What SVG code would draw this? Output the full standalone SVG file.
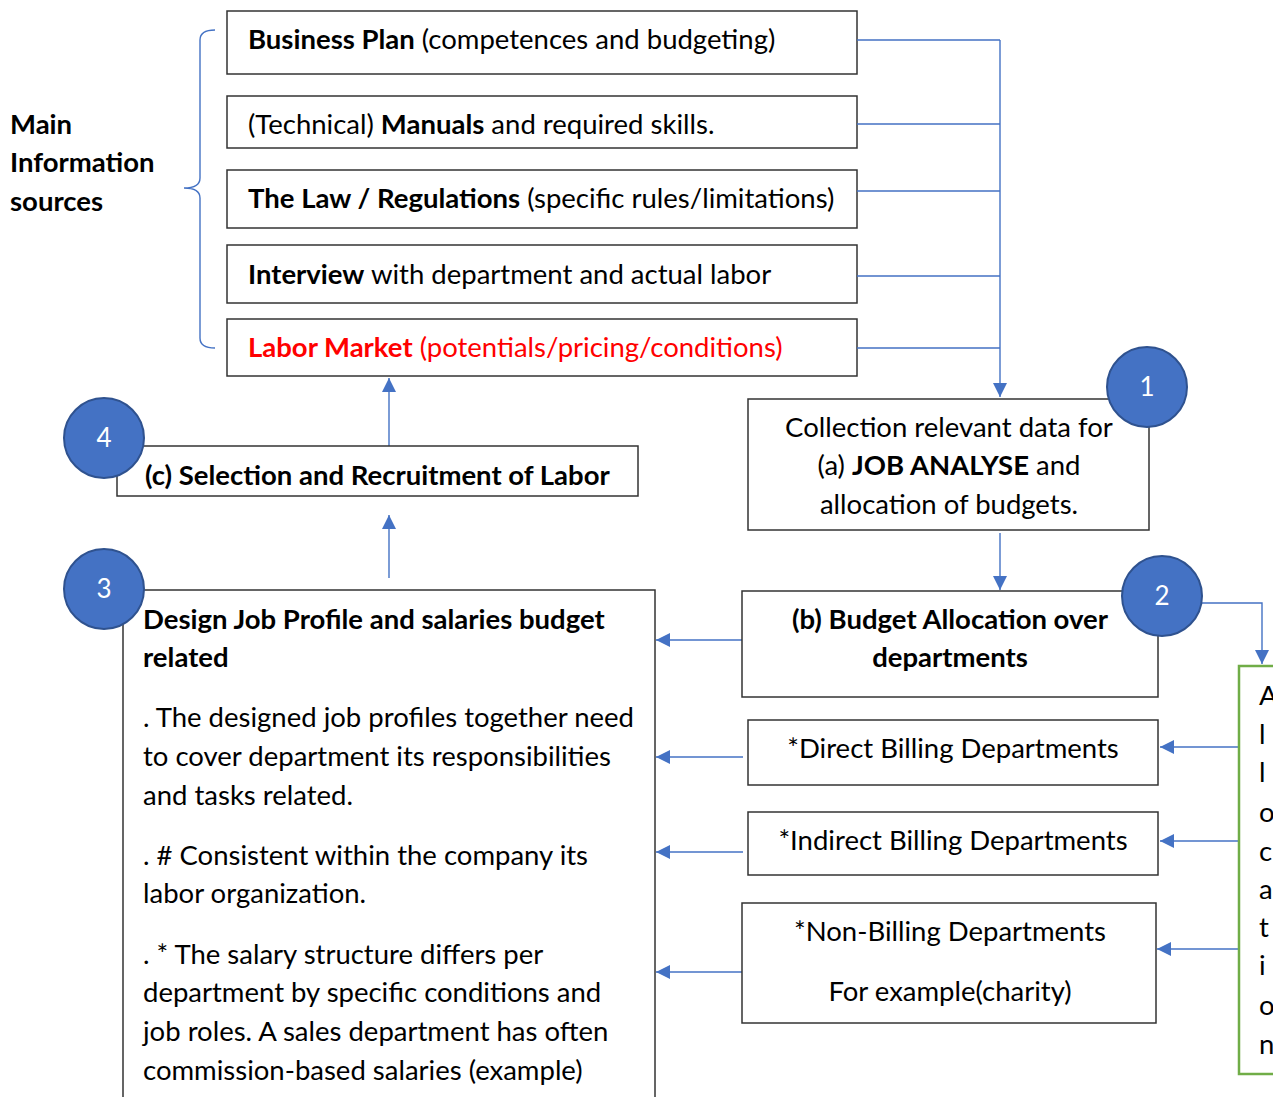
<svg xmlns="http://www.w3.org/2000/svg" width="1273" height="1097" viewBox="0 0 1273 1097">
  <defs>
    <marker id="arrow" markerWidth="14" markerHeight="14" refX="14" refY="7" orient="auto" markerUnits="userSpaceOnUse">
      <path d="M0,0 L14,7 L0,14 Z" fill="#4472C4"/>
    </marker>
    <style>
      text { font-family: Lato, "Liberation Sans", sans-serif; font-size: 27.5px; fill: #000; }
      .b { font-weight: bold; }
      .red { fill: #FF0000; }
      .mid { text-anchor: middle; }
      .box { fill: #fff; stroke: #333; stroke-width: 1.5; }
      .green { fill: #fff; stroke: #70AD47; stroke-width: 2.5; }
      .badge { fill: #4472C4; stroke: #2F528F; stroke-width: 2; }
      .badge-t { fill: #fff; font-size: 26px; text-anchor: middle; }
      .link { fill: none; stroke: #4472C4; stroke-width: 1.4; }
      .tip { fill: none; stroke: #4472C4; stroke-width: 1.4; marker-end: url(#arrow); }
    </style>
  </defs>
  <rect width="1273" height="1097" fill="#fff"/>

  <!-- label and brace for the information sources -->
  <g id="sources-label">
    <text class="b" x="10" y="134">Main</text>
    <text class="b" x="10" y="172">Information</text>
    <text class="b" x="10" y="211">sources</text>
    <path class="link" d="M215,30 Q200,30 200,40 L200,178 Q200,188 184,188 Q200,188 200,198 L200,338 Q200,348 215,348"/>
  </g>

  <!-- information sources -->
  <g id="business-plan">
    <rect class="box" x="227" y="11" width="630" height="63"/>
    <text x="248" y="49"><tspan class="b">Business Plan</tspan> (competences and budgeting)</text>
  </g>
  <g id="manuals">
    <rect class="box" x="227" y="96" width="630" height="52"/>
    <text x="248" y="134">(Technical) <tspan class="b">Manuals</tspan> and required skills.</text>
  </g>
  <g id="law">
    <rect class="box" x="227" y="170" width="630" height="58"/>
    <text x="248" y="208"><tspan class="b">The Law / Regulations</tspan> (specific rules/limitations)</text>
  </g>
  <g id="interview">
    <rect class="box" x="227" y="245" width="630" height="58"/>
    <text x="248" y="284"><tspan class="b">Interview</tspan> with department and actual labor</text>
  </g>
  <g id="labor-market">
    <rect class="box" x="227" y="319" width="630" height="57"/>
    <text class="red" x="248" y="357"><tspan class="b">Labor Market</tspan> (potentials/pricing/conditions)</text>
  </g>

  <!-- connectors -->
  <g id="connectors">
    <path class="link" d="M857,40 H1000 M857,124 H1000 M857,191 H1000 M857,276 H1000 M857,348 H1000"/>
    <path class="tip" d="M1000,40 V397"/>
    <path class="tip" d="M1000,533 V590"/>
    <path class="tip" d="M1202,603 H1262 V664"/>
    <path class="tip" d="M1239,747 H1160"/>
    <path class="tip" d="M1239,841 H1160"/>
    <path class="tip" d="M1239,949 H1157"/>
    <path class="tip" d="M742,640 H656"/>
    <path class="tip" d="M743,757 H656"/>
    <path class="tip" d="M743,852 H656"/>
    <path class="tip" d="M742,972 H656"/>
    <path class="tip" d="M389,578 V515"/>
    <path class="tip" d="M389,446 V378"/>
  </g>

  <!-- step 1 -->
  <g id="collection">
    <rect class="box" x="748" y="399" width="401" height="131"/>
    <text class="mid" x="949" y="437">Collection relevant data for</text>
    <text class="mid" x="949" y="475">(a) <tspan class="b">JOB ANALYSE</tspan> and</text>
    <text class="mid" x="949" y="514">allocation of budgets.</text>
    <ellipse class="badge" cx="1147" cy="387" rx="40" ry="40"/>
    <text class="badge-t" x="1147" y="396">1</text>
  </g>

  <!-- step 2 -->
  <g id="budget-allocation">
    <rect class="box" x="742" y="591" width="416" height="106"/>
    <text class="b mid" x="950" y="629">(b) Budget Allocation over</text>
    <text class="b mid" x="950" y="667">departments</text>
    <ellipse class="badge" cx="1162" cy="596" rx="40" ry="40"/>
    <text class="badge-t" x="1162" y="605">2</text>
  </g>

  <g id="direct-billing">
    <rect class="box" x="748" y="720" width="410" height="65"/>
    <text class="mid" x="953" y="758">*Direct Billing Departments</text>
  </g>
  <g id="indirect-billing">
    <rect class="box" x="748" y="812" width="410" height="63"/>
    <text class="mid" x="953" y="850">*Indirect Billing Departments</text>
  </g>
  <g id="non-billing">
    <rect class="box" x="742" y="903" width="414" height="120"/>
    <text class="mid" x="950" y="941">*Non-Billing Departments</text>
    <text class="mid" x="950" y="1001">For example(charity)</text>
  </g>

  <!-- allocation column -->
  <g id="allocation">
    <rect class="green" x="1239" y="666" width="60" height="408"/>
    <text x="1259" y="705">A</text>
    <text x="1259" y="744">l</text>
    <text x="1259" y="782">l</text>
    <text x="1259" y="822">o</text>
    <text x="1259" y="861">c</text>
    <text x="1259" y="899">a</text>
    <text x="1259" y="937">t</text>
    <text x="1259" y="975">i</text>
    <text x="1259" y="1015">o</text>
    <text x="1259" y="1054">n</text>
  </g>

  <!-- step 3 -->
  <g id="job-profile">
    <rect class="box" x="123" y="590" width="532" height="520"/>
    <text class="b" x="143" y="629">Design Job Profile and salaries budget</text>
    <text class="b" x="143" y="667">related</text>
    <text x="143" y="727">. The designed job profiles together need</text>
    <text x="143" y="766">to cover department its responsibilities</text>
    <text x="143" y="805">and tasks related.</text>
    <text x="143" y="865">. # Consistent within the company its</text>
    <text x="143" y="903">labor organization.</text>
    <text x="143" y="964">. * The salary structure differs per</text>
    <text x="143" y="1002">department by specific conditions and</text>
    <text x="143" y="1041">job roles. A sales department has often</text>
    <text x="143" y="1080">commission-based salaries (example)</text>
    <ellipse class="badge" cx="104" cy="589" rx="40" ry="40"/>
    <text class="badge-t" x="104" y="598">3</text>
  </g>

  <!-- step 4 -->
  <g id="recruitment">
    <rect class="box" x="117" y="446" width="521" height="50"/>
    <text class="b" x="145" y="485">(c) Selection and Recruitment of Labor</text>
    <ellipse class="badge" cx="104" cy="438" rx="40" ry="40"/>
    <text class="badge-t" x="104" y="447">4</text>
  </g>
</svg>
